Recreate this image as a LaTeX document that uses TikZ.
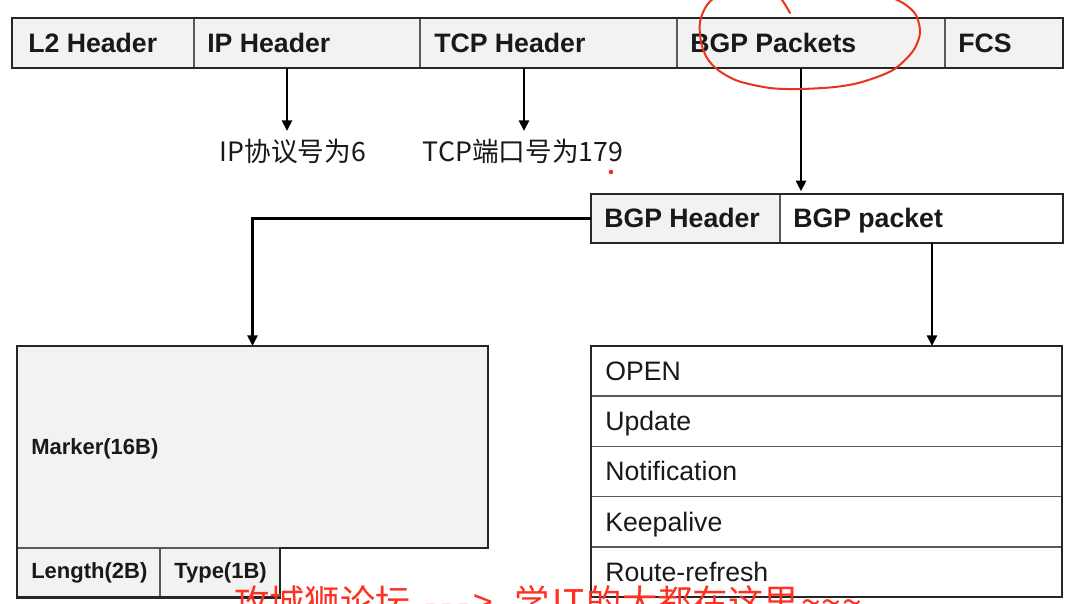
\documentclass[tikz,border=0pt]{standalone}
\usepackage{fontspec}
\setmainfont{Liberation Sans}
\newfontfamily\cjk{Noto Sans CJK SC}
\usetikzlibrary{arrows.meta}
\definecolor{cellgray}{HTML}{F2F2F2}
\definecolor{framec}{HTML}{262626}
\definecolor{divc}{HTML}{5A5A5A}
\definecolor{redmark}{HTML}{E8341C}
\definecolor{redtext}{HTML}{FF3020}
\begin{document}
\begin{tikzpicture}[x=0.75pt,y=-0.75pt,
  cell/.style 2 args={draw=divc, line width=1.1pt, minimum width=#1*0.75pt, minimum height=#2*0.75pt, anchor=north west, inner sep=0pt, outer sep=0pt},
  gcell/.style={fill=cellgray},
  wcell/.style={fill=white},
  frame/.style={draw=framec, line width=2.2pt, line join=miter},
  hdr/.style={font=\bfseries\fontsize{20}{24}\selectfont, anchor=base west, inner sep=0pt, text=black!90},
  small/.style={font=\bfseries\fontsize{16.5}{20}\selectfont, anchor=base west, inner sep=0pt, text=black!90},
  item/.style={font=\fontsize{20}{24}\selectfont, anchor=base west, inner sep=0pt, text=black!90},
  lab/.style={font=\cjk\fontsize{20}{24}\selectfont, inner sep=0pt, text=black!90},
  arr/.style={draw=black, line width=2.1pt, -{Triangle[length=8pt,width=7.5pt]}},
  redpen/.style={draw=redmark, line width=1.5pt, line cap=round, line join=round},
]
\useasboundingbox (0,0) rectangle (1076,604);
\fill[white] (0,0) rectangle (1076,604);

% ---- top frame row
\node[cell={182}{50}, gcell] (l2) at (12,18) {};
\node[cell={226}{50}, gcell] (ip) at (l2.north east) {};
\node[cell={257}{50}, gcell] (tcp) at (ip.north east) {};
\node[cell={268}{50}, gcell] (bgp) at (tcp.north east) {};
\node[cell={118}{50}, gcell] (fcs) at (bgp.north east) {};
\draw[frame] (l2.north west) rectangle (fcs.south east);
\node[hdr] (l2t) at ([shift={(12pt,-7.1pt)}]l2.west) {L2 Header};
\node[hdr] (ipt) at ([shift={(9.75pt,-7.1pt)}]ip.west) {IP Header};
\node[hdr] (tcpt) at ([shift={(10.5pt,-7.1pt)}]tcp.west) {TCP Header};
\node[hdr] (bgpt) at ([shift={(9.75pt,-7.1pt)}]bgp.west) {BGP Packets};
\node[hdr] (fcst) at ([shift={(9.75pt,-7.1pt)}]fcs.west) {FCS};

% ---- labels under IP / TCP
\node[lab] (iplab) at (293,151) {IP协议号为6};
\node[lab] (tcplab) at (523,151) {TCP端口号为179};
\coordinate (ipend) at (287,131);
\coordinate (tcpend) at (524,131);
\draw[arr] (ip.south -| ipend) -- (ipend);
\draw[arr] (tcp.south -| tcpend) -- (tcpend);

% ---- BGP header / packet row
\node[cell={189}{49}, gcell] (bgph) at (591,194) {};
\node[cell={283}{49}, wcell] (bgpp) at (bgph.north east) {};
\draw[frame] (bgph.north west) rectangle (bgpp.south east);
\node[hdr] (bgpht) at ([shift={(9.75pt,-7.1pt)}]bgph.west) {BGP Header};
\node[hdr] (bgppt) at ([shift={(9.75pt,-7.1pt)}]bgpp.west) {BGP packet};

\coordinate (bgpx) at (801,0);
\draw[arr, shorten >=2pt] (bgp.south -| bgpx) -- (bgph.north -| bgpx);

% ---- Marker block
\node[cell={471}{202}, gcell, draw=none] (marker) at (17,346) {};
\node[cell={143}{49.5}, gcell] (len) at (marker.south west) {};
\node[cell={120}{49.5}, gcell] (typ) at (len.north east) {};
\draw[frame] (marker.north west) -- (marker.north east) -- (marker.south east)
  -- (typ.north east) -- (typ.south east) -- (len.south west) -- cycle;
\node[small] (markert) at ([shift={(10.5pt,-5.9pt)}]marker.west) {Marker(16B)};
\node[small] (lent) at ([shift={(10.5pt,-4.5pt)}]len.west) {Length(2B)};
\node[small] (typt) at ([shift={(10.5pt,-4.5pt)}]typ.west) {Type(1B)};

\draw[arr] (bgph.west) -| (marker.north);

% ---- message list
\node[cell={471}{50.2}, wcell] (open) at (591,346) {};
\node[cell={471}{50.2}, wcell] (upd) at (open.south west) {};
\node[cell={471}{50.2}, wcell] (noti) at (upd.south west) {};
\node[cell={471}{50.2}, wcell] (keep) at (noti.south west) {};
\node[cell={471}{50.2}, wcell] (rr) at (keep.south west) {};
\draw[frame] (open.north west) rectangle (rr.south east);
\node[item] (opent) at ([shift={(10.5pt,-7.1pt)}]open.west) {OPEN};
\node[item] (updt) at ([shift={(10.5pt,-7.1pt)}]upd.west) {Update};
\node[item] (notit) at ([shift={(10.5pt,-7.1pt)}]noti.west) {Notification};
\node[item] (keept) at ([shift={(10.5pt,-7.1pt)}]keep.west) {Keepalive};
\node[item] (rrt) at ([shift={(10.5pt,-7.1pt)}]rr.west) {Route-refresh};

\coordinate (pkx) at (932,0);
\draw[arr] (bgpp.south -| pkx) -- (open.north -| pkx);

% ---- red hand annotations
\draw[redpen] plot[smooth] coordinates {(790,13) (782,0) (770,-12) (745,-16) (722,-8) (707,5) (700,22) (701,42) (707,58) (718,70) (738,81) (770,88) (800,89) (835,87) (862,82) (893,70) (913,51) (920,33) (916,15) (903,3) (882,-6) (860,-12)};
\fill[redmark] (611,172) circle[radius=1.7pt];
\node[font=\cjk\fontsize{26.5}{30}\selectfont, text=redtext, anchor=base west, inner sep=0pt] (wm) at (234,615)
  {攻城狮论坛\kern10pt-\kern3.2pt-\kern3.2pt-\kern3.2pt>\kern16pt学\kern1.5pt I\kern1pt T\kern1.5pt 的大都在这里\kern2pt\string~\kern0.5pt\string~\kern0.5pt\string~};
\end{tikzpicture}
\end{document}
